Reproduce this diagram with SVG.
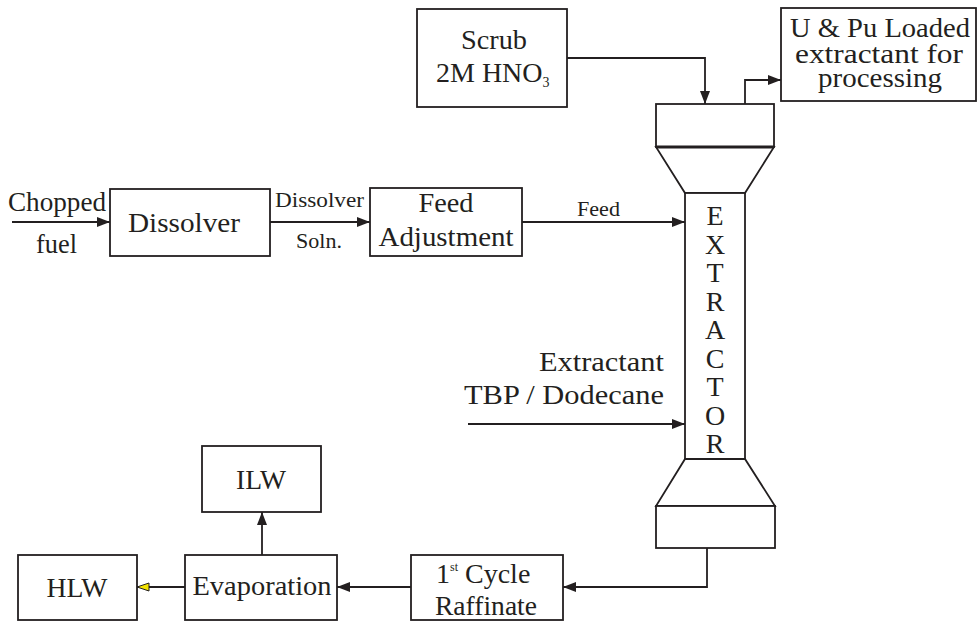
<svg xmlns="http://www.w3.org/2000/svg" width="977" height="622" viewBox="0 0 977 622">
<style>
.box{fill:#fff;stroke:#231f20;stroke-width:1.8}
.t{font-family:'Liberation Serif',Tinos,'DejaVu Serif',serif;fill:#231f20;font-size:28px}
.c{text-anchor:middle}
.s{font-size:22px}
.ln{fill:none;stroke:#231f20;stroke-width:1.8}
</style>
<defs>
<marker id="ah" markerUnits="userSpaceOnUse" markerWidth="14" markerHeight="10" refX="13" refY="5" orient="auto">
<path d="M0,0 L13,5 L0,10 z" fill="#231f20"/>
</marker>
<marker id="ahy" markerUnits="userSpaceOnUse" markerWidth="14" markerHeight="12" refX="13" refY="5" orient="auto">
<path d="M1,1 L13,5 L1,9 z" fill="#f2e200" stroke="#231f20" stroke-width="1"/>
</marker>
</defs>
<rect width="977" height="622" fill="#fff"/>

<g id="connectors">
<path class="ln" d="M12,222 H110" marker-end="url(#ah)"/>
<path class="ln" d="M270,222 H370" marker-end="url(#ah)"/>
<path class="ln" d="M522,222 H685" marker-end="url(#ah)"/>
<path class="ln" d="M567,58 H705 V104" marker-end="url(#ah)"/>
<path class="ln" d="M745,104 V80 H781" marker-end="url(#ah)"/>
<path class="ln" d="M468,424 H685" marker-end="url(#ah)"/>
<path class="ln" d="M707,548 V587 H563" marker-end="url(#ah)"/>
<path class="ln" d="M411,587 H337" marker-end="url(#ah)"/>
<path class="ln" d="M185,587 H137" marker-end="url(#ahy)"/>
<path class="ln" d="M262,555 V512" marker-end="url(#ah)"/>
</g>

<g id="labels" font-family="Liberation Serif, serif">
<text class="t" x="8" y="211" textLength="98" lengthAdjust="spacingAndGlyphs" font-size="26">Chopped</text>
<text class="t" x="36" y="253" textLength="41" lengthAdjust="spacingAndGlyphs" font-size="26">fuel</text>
<text class="t s" x="275" y="207" textLength="89" lengthAdjust="spacingAndGlyphs">Dissolver</text>
<text class="t s" x="296" y="248" textLength="46" lengthAdjust="spacingAndGlyphs">Soln.</text>
<text class="t s" x="577" y="216" textLength="43" lengthAdjust="spacingAndGlyphs">Feed</text>
<text class="t" x="664" y="371" text-anchor="end" textLength="125" lengthAdjust="spacingAndGlyphs" font-size="29">Extractant</text>
<text class="t" x="664" y="404" text-anchor="end" textLength="200" lengthAdjust="spacingAndGlyphs" font-size="29">TBP / Dodecane</text>
</g>

<g id="dissolver">
<rect class="box" x="110" y="189" width="160" height="67"/>
<text class="t c" x="184" y="232" textLength="112" lengthAdjust="spacingAndGlyphs" font-size="30">Dissolver</text>
</g>

<g id="feed-adjustment">
<rect class="box" x="370" y="188" width="152" height="68"/>
<text class="t c" x="446" y="212" textLength="55" lengthAdjust="spacingAndGlyphs">Feed</text>
<text class="t c" x="446" y="246" textLength="135" lengthAdjust="spacingAndGlyphs">Adjustment</text>
</g>

<g id="scrub">
<rect class="box" x="417" y="9" width="150" height="98"/>
<text class="t c" x="494" y="49" textLength="66" lengthAdjust="spacingAndGlyphs">Scrub</text>
<text class="t" x="436" y="82">2M HNO<tspan font-size="14" dy="5">3</tspan></text>
</g>

<g id="loaded-extractant">
<rect class="box" x="781" y="8" width="195" height="93"/>
<text class="t c" x="880" y="37" textLength="180" lengthAdjust="spacingAndGlyphs" font-size="27">U &amp; Pu Loaded</text>
<text class="t c" x="879" y="63" textLength="168" lengthAdjust="spacingAndGlyphs" font-size="27">extractant for</text>
<text class="t c" x="880" y="87" textLength="124" lengthAdjust="spacingAndGlyphs" font-size="27">processing</text>
</g>

<g id="extractor">
<rect class="box" x="656" y="104" width="118" height="43"/>
<polygon class="box" points="656,147 774,147 745,193 685,193"/>
<line x1="656" y1="147" x2="774" y2="147" stroke="#231f20" stroke-width="3"/>
<rect class="box" x="685" y="193" width="60" height="266"/>
<polygon class="box" points="685,459 745,459 775,506 656,506"/>
<rect class="box" x="656" y="506" width="119" height="42"/>
<text class="t c" x="715" y="225">E</text>
<text class="t c" x="715" y="253.5">X</text>
<text class="t c" x="715" y="282">T</text>
<text class="t c" x="715" y="310.5">R</text>
<text class="t c" x="715" y="339">A</text>
<text class="t c" x="715" y="367.5">C</text>
<text class="t c" x="715" y="396">T</text>
<text class="t c" x="715" y="424.5">O</text>
<text class="t c" x="715" y="453">R</text>
</g>

<g id="raffinate">
<rect class="box" x="411" y="555" width="152" height="65"/>
<text class="t" x="436" y="583">1<tspan font-size="12" dy="-12">st</tspan><tspan dy="12"> Cycle</tspan></text>
<text class="t c" x="486" y="615" textLength="102" lengthAdjust="spacingAndGlyphs">Raffinate</text>
</g>

<g id="evaporation">
<rect class="box" x="185" y="555" width="152" height="65"/>
<text class="t c" x="262" y="595" textLength="139" lengthAdjust="spacingAndGlyphs">Evaporation</text>
</g>

<g id="ilw">
<rect class="box" x="202" y="446" width="119" height="66"/>
<text class="t c" x="261" y="489" textLength="50" lengthAdjust="spacingAndGlyphs">ILW</text>
</g>

<g id="hlw">
<rect class="box" x="18" y="555" width="119" height="65"/>
<text class="t c" x="77" y="597" textLength="61" lengthAdjust="spacingAndGlyphs">HLW</text>
</g>
</svg>
